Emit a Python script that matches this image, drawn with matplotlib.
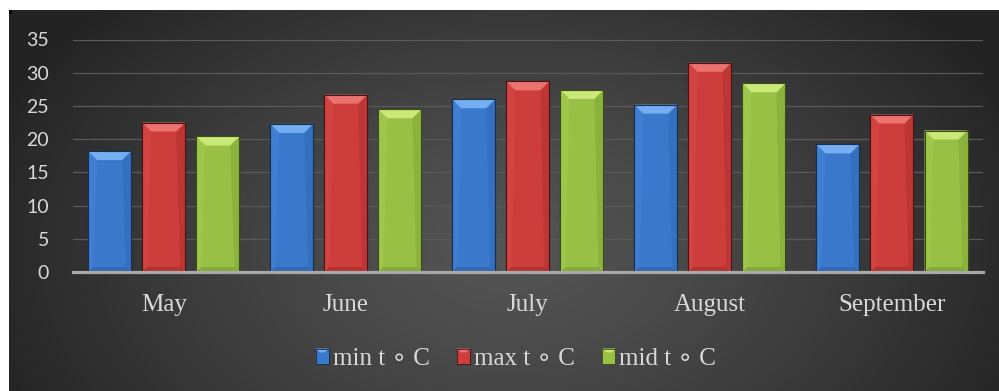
import numpy as np
import matplotlib
matplotlib.use('Agg')
import matplotlib.pyplot as plt
from matplotlib.patches import Polygon, Rectangle
from matplotlib.legend_handler import HandlerBase

# ---- data ----
months = ['May', 'June', 'July', 'August', 'September']
min_t = [18.2, 22.3, 26.0, 25.2, 19.2]
max_t = [22.5, 26.7, 28.7, 31.5, 23.7]
mid_t = [20.4, 24.5, 27.4, 28.4, 21.3]
series_labels = ['min t \u2218 C', 'max t \u2218 C', 'mid t \u2218 C']
yticks = [0, 5, 10, 15, 20, 25, 30, 35]

# ---- styles ----
styles = [
    dict(face='#3a78cc', top='#74aef0', left='#3f7ed2', right='#3470c0', bottom='#3268b4', edge='#15304f'),
    dict(face='#cd3d3b', top='#ec7270', left='#d24442', right='#bd3634', bottom='#b33331', edge='#4a1212'),
    dict(face='#98c045', top='#c9e878', left='#9ec64b', right='#8cb23e', bottom='#86aa3b', edge='#3a4d16'),
]
text_col = '#d9d9d9'
serif = ['Liberation Serif', 'DejaVu Sans']

W, H = 999, 391
fig = plt.figure(figsize=(W / 100, H / 100), dpi=100)
fig.patch.set_facecolor('white')

# ---- background radial gradient ----
bgx0, bgy0 = 9, 10
bw, bh = W - bgx0, H - bgy0
bg = fig.add_axes([bgx0 / W, 0, bw / W, bh / H])
yy, xx = np.mgrid[0:bh, 0:bw]
r = np.sqrt(((xx - 500) / 560.0) ** 2 + ((yy - 240) / 360.0) ** 2)
r = np.clip(r, 0, 1)
c_in = np.array([0x54, 0x54, 0x54]) / 255.0
c_out = np.array([0x23, 0x23, 0x23]) / 255.0
t = r[..., None] ** 1.3
img = c_in * (1 - t) + c_out * t
bg.imshow(img, aspect='auto', extent=[0, bw, bh, 0], interpolation='bilinear')
bg.set_xlim(0, bw)
bg.set_ylim(bh, 0)
bg.axis('off')
bg.add_patch(Rectangle((0, 0), 3, 4, facecolor='black', edgecolor='none'))

# ---- main axes ----
ax_l, ax_r, ax_t, ax_b = 72.7, 983.0, 39.5, 272.0
ax = fig.add_axes([ax_l / W, (H - ax_b) / H, (ax_r - ax_l) / W, (ax_b - ax_t) / H])
ax.patch.set_alpha(0)
ax.set_xlim(-0.5, 4.5)
ax.set_ylim(0, 35)
for s in ax.spines.values():
    s.set_visible(False)

px_x = (ax_r - ax_l) / 5.0
px_y = (ax_b - ax_t) / 35.0

x = np.arange(len(months))
width = 0.236
step = 0.297
series = [min_t, max_t, mid_t]

ax.set_yticks(yticks)
ax.yaxis.grid(True, color='#5a5a5a', lw=0.9, zorder=0)
ax.set_axisbelow(True)
ax.axhline(0, color='#a8a8a8', lw=2.3, zorder=10, clip_on=False)


def bevel_polys(x0, x1, y0, y1, bx, by, sx, sb):
    top = [(x0, y1), (x1, y1), (x1 - bx, y1 - by), (x0 + bx, y1 - by)]
    left = [(x0, y1), (x0 + bx, y1 - by), (x0 + sx, y0 + sb), (x0, y0)]
    right = [(x1, y1), (x1 - bx, y1 - by), (x1 - sx, y0 + sb), (x1, y0)]
    bottom = [(x0, y0), (x0 + sx, y0 + sb), (x1 - sx, y0 + sb), (x1, y0)]
    return top, left, right, bottom


for i, (vals, st) in enumerate(zip(series, styles)):
    bars = ax.bar(x + (i - 1) * step, vals, width, color=st['face'],
                  edgecolor=st['edge'], linewidth=0.8, zorder=3)
    for p in bars.patches:
        x0 = p.get_x()
        x1 = x0 + p.get_width()
        y0 = p.get_y()
        y1 = y0 + p.get_height()
        top, left, right, bottom = bevel_polys(x0, x1, y0, y1,
                                               9 / px_x, 9 / px_y,
                                               5 / px_x, 5 / px_y)
        for poly, key in ((left, 'left'), (right, 'right'), (bottom, 'bottom'), (top, 'top')):
            ax.add_patch(Polygon(poly, closed=True, facecolor=st[key],
                                 edgecolor='none', zorder=4))
        ax.add_patch(Rectangle((x0, y0), x1 - x0, y1 - y0, facecolor='none',
                               edgecolor=st['edge'], lw=0.8, zorder=5))

ax.set_xticks(x)
ax.set_xticklabels(months, family=serif, fontsize=18, color=text_col)
ax.tick_params(axis='x', length=0, pad=15.5)
ax.tick_params(axis='y', length=0, pad=17, labelcolor=text_col)
for lab in ax.get_yticklabels():
    lab.set_family(['Lato', 'DejaVu Sans'])
    lab.set_fontsize(14)


# ---- legend with bevelled markers ----
class BevelHandler(HandlerBase):
    def __init__(self, st):
        super().__init__()
        self.st = st

    def create_artists(self, legend, orig_handle, xdescent, ydescent,
                       width, height, fontsize, trans):
        st = self.st
        x0, y0 = -xdescent, -ydescent
        x1, y1 = x0 + width, y0 + height
        arts = [Rectangle((x0, y0), width, height, facecolor=st['face'],
                          edgecolor='none', transform=trans)]
        b = width * 0.3
        top = [(x0, y1), (x1, y1), (x1 - b, y1 - b), (x0 + b, y1 - b)]
        arts.append(Polygon(top, closed=True, facecolor=st['top'],
                            edgecolor='none', transform=trans))
        arts.append(Rectangle((x0, y0), width, height, facecolor='none',
                              edgecolor=st['edge'], lw=0.6, transform=trans))
        return arts


proxies = [Rectangle((0, 0), 1, 1) for _ in styles]
hmap = {p: BevelHandler(st) for p, st in zip(proxies, styles)}
leg = fig.legend(proxies, series_labels, handler_map=hmap, loc='center',
                 bbox_to_anchor=(516 / W, (H - 359) / H), ncol=3, frameon=False,
                 prop={'family': serif, 'size': 18},
                 handlelength=0.52, handleheight=0.56, handletextpad=0.16,
                 columnspacing=1.1, borderpad=0, borderaxespad=0)
for tx in leg.get_texts():
    tx.set_color(text_col)

fig.savefig('out.png', dpi=100, facecolor=fig.get_facecolor())
